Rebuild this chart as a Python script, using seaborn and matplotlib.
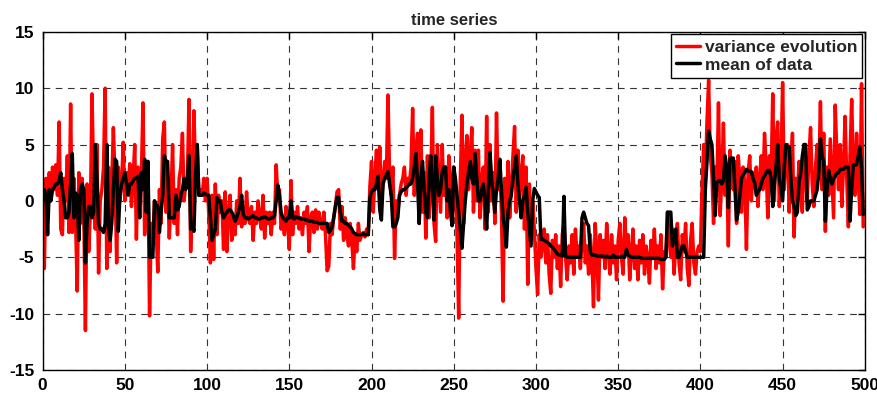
import numpy as np
import pandas as pd
import matplotlib
matplotlib.use("Agg")
import matplotlib.pyplot as plt
import seaborn as sns

# values, one per time step (0..499)
variance = [
    1.5, -6.0, 2.0, -1.0, 2.5, 0.5, 3.0, 1.0, 3.2, 0.5,
    7.0, -2.5, -3.0, 2.0, 0.0, 4.0, -2.8, 8.6, -2.8, 2.0,
    -1.5, -8.0, 2.5, -2.0, 2.0, -1.0, -11.5, 1.5, -4.5, -1.0,
    9.5, 2.0, -2.5, 5.0, -6.4, 0.0, 1.0, 3.0, 10.0, -6.0,
    3.0, -4.5, 1.5, 6.5, 2.0, -5.5, 3.0, 0.0, 1.5, 5.2,
    0.0, 2.5, 1.0, 3.3, -0.5, 2.0, 5.0, -3.4, 3.0, 1.0,
    2.0, 8.7, -3.0, 1.0, 3.5, -10.2, -2.0, -3.5, 0.0, -2.5,
    -6.3, 1.0, -2.0, 5.5, 7.0, -1.0, 2.0, -3.3, 0.0, 5.0,
    -2.0, 1.0, -3.0, 2.0, 3.0, 6.0, 0.0, 1.5, 2.0, 9.0,
    -4.5, 1.0, 8.0, 2.0, 5.0, 0.5, 1.0, 0.5, 2.0, 0.0,
    2.0, -1.0, -5.5, 0.5, -5.2, 1.5, -3.0, 0.5, -1.0, 0.0,
    -4.3, 0.8, -4.5, -1.0, 0.5, -3.5, -1.5, -3.0, 0.0, -2.0,
    2.0, -2.3, -0.5, -2.0, 0.8, -1.5, -2.0, -0.5, -3.5, -1.0,
    -2.0, 0.0, -1.5, -2.5, 0.5, -3.3, -1.0, -2.0, -1.0, -3.0,
    -1.0, -2.0, 3.2, 0.5, 1.0, -2.5, -1.5, -3.0, -0.5, -2.0,
    -4.3, 1.8, -3.0, -1.0, -2.0, -0.5, -2.5, -1.5, -3.0, -1.0,
    -2.0, -0.5, -4.5, -1.5, -1.0, -2.8, -0.8, -2.5, -1.0, -2.0,
    -2.5, -1.0, -3.0, -6.2, -5.8, -2.0, -3.0, -1.5, -0.5, 0.8,
    1.0, -2.5, -0.5, -3.5, -1.5, -3.0, -4.0, -2.0, -3.5, -6.0,
    -3.0, -4.5, -2.0, -3.5, -3.0, -2.8, -3.2, -2.5, -3.0, 1.3,
    3.5, -1.0, 2.0, 4.5, 1.0, 4.8, 0.0, 1.5, 3.5, 2.0,
    9.4, 2.0, 0.5, 3.0, -5.1, 0.0, -1.0, 0.5, 1.5, 2.0,
    3.0, 0.5, 2.0, 1.5, 3.0, 8.2, 0.5, 4.5, 6.0, -2.0,
    6.3, -1.0, 2.5, -3.3, 4.0, -1.5, 2.0, 8.3, -2.0, -3.6,
    5.0, 2.0, -1.0, 5.0, 0.5, 3.0, -1.5, 4.0, 2.0, -2.0,
    3.0, 1.0, -3.0, -10.4, 2.0, 7.6, -2.0, 3.5, 5.8, 1.0,
    4.0, 6.5, -1.0, 4.5, 0.0, 4.5, -1.5, 2.0, 3.0, -2.5,
    7.5, -1.0, 5.0, 0.0, 2.5, -2.0, 7.8, 1.0, 3.5, -1.0,
    -8.9, 2.0, -2.0, 3.5, -1.5, 1.0, 4.0, 6.6, -1.0, 4.5,
    0.0, 2.5, 4.0, -2.5, 3.0, -7.4, 1.5, -3.0, 0.0, -2.5,
    -6.0, -8.3, -3.0, -5.0, -4.0, -2.5, -5.5, -3.0, -6.5, -8.2,
    -3.5, -5.0, -3.0, -6.0, -4.0, -7.6, -3.0, -2.0, -5.0, -7.0,
    -4.0, -5.5, -3.0, -6.5, -2.5, -5.0, -4.0, -6.0, -3.5, -2.0,
    -5.5, -4.0, -6.5, -3.0, -5.0, -9.4, -2.0, -4.5, -8.8, -3.0,
    -5.0, -3.5, -6.0, -2.0, -4.5, -6.5, -3.0, -5.5, -4.0, -7.0,
    -3.5, -2.0, -5.0, -6.5, -1.5, -4.5, -3.0, -7.0, -4.5, -2.5,
    -6.0, -4.0, -7.0, -3.5, -5.5, -3.0, -6.5, -4.0, -5.0, -7.3,
    -3.5, -5.0, -2.5, -6.0, -4.0, -5.5, -3.0, -7.8, -4.5, -5.0,
    -1.0, -3.5, -5.0, -2.5, -6.5, -4.0, -2.0, -5.5, -7.0, -3.0,
    -4.5, -2.0, -6.0, -7.5, -3.5, -2.0, -5.5, -6.5, -4.5, -4.0,
    -4.5, 1.0, 5.0, 2.0, 7.0, 10.7, 4.0, 2.5, -2.0, 3.0,
    1.0, 8.7, -1.3, 2.0, 6.9, 0.5, 3.0, -4.0, 4.5, 2.0,
    1.0, 3.5, -2.0, 4.0, 2.0, -1.0, 3.0, 1.5, -4.3, 2.5,
    4.0, 0.0, 2.5, 1.5, 3.0, -0.5, 2.0, 4.0, 1.0, 6.0,
    3.0, -1.5, 4.0, 2.0, 9.5, 0.0, 5.5, 7.0, -0.5, 3.0,
    10.5, 1.0, 4.0, 5.0, -1.0, 3.0, 6.0, -3.2, 2.0, 0.5,
    3.5, 1.0, -1.0, 5.0, 2.0, 0.0, 4.0, 6.5, 1.5, -0.5,
    3.0, 5.0, 2.0, 8.8, 1.0, 6.0, -2.7, 3.0, 0.5, 5.5,
    2.0, -1.5, 8.5, 4.0, 1.0, 5.0, -0.5, 3.0, 7.5, 2.0,
    -2.3, 4.0, 9.0, 3.0, 0.5, 6.0, 2.0, -1.2, 10.4, -2.3,
]

mean_data = [
    0.0, 1.0, 0.5, -3.0, 1.0, 0.0, 1.0, 1.2, 1.5, 1.5,
    1.8, 2.5, 1.0, 0.0, -1.5, -1.5, -1.0, 1.5, 4.2, -1.5,
    0.7, 0.5, -3.5, 1.0, 1.5, 1.0, -5.5, -2.0, -0.5, -0.5,
    -1.5, -1.0, 5.0, 2.0, -2.0, -2.5, -2.5, -2.8, -2.0, 5.0,
    -2.5, -3.5, -2.0, 1.0, 3.7, 3.5, -2.7, 0.5, 1.5, 2.0,
    2.5, 1.5, 0.5, 1.5, 1.5, 1.8, 2.0, 2.0, 2.2, -1.5,
    2.5, 1.0, 3.7, -1.0, 3.5, -5.0, -5.0, -5.0, 0.0, -0.3,
    -0.5, -2.8, -1.0, 0.5, 4.0, 3.5, 3.5, -1.5, -1.5, -1.5,
    -1.5, 0.5, -0.8, -0.5, 0.5, 1.0, 2.0, 1.0, 2.0, 4.0,
    -2.5, -2.0, -2.7, 2.5, 5.0, 0.5, 0.5, 0.5, 0.7, 0.6,
    0.5, 0.5, -1.5, -3.5, -3.0, -2.5, 0.3, 0.0, 0.0, -1.0,
    -1.5, -1.2, -1.0, -0.8, -0.8, -1.0, -1.3, -1.8, -1.5, -1.0,
    -0.5, 0.5, -1.2, -1.5, -1.5, -1.6, -1.5, -1.4, -1.3, -1.5,
    -1.5, -1.6, -1.6, -1.5, -1.5, -1.4, -1.5, -1.6, -1.6, -1.5,
    -1.5, -1.3, 0.0, 1.4, 0.5, -1.0, -1.5, -1.6, -1.8, -1.5,
    -1.5, 0.0, -1.5, -1.6, -1.4, -1.5, -1.5, -1.6, -1.6, -1.6,
    -1.7, -1.7, -1.8, -1.8, -1.8, -1.9, -1.9, -1.9, -2.0, -2.0,
    -2.0, -2.0, -2.0, -2.0, -2.8, -2.6, -2.3, -1.5, -0.5, 0.3,
    0.3, -1.0, -1.8, -1.8, -2.0, -2.0, -2.2, -2.3, -2.5, -2.8,
    -2.9, -3.0, -3.0, -3.0, -3.0, -2.9, -3.0, -3.0, -3.0, 0.3,
    0.8, 1.0, 1.0, 1.5, 2.2, -0.8, -1.7, 1.5, 2.0, 2.3,
    2.6, 1.5, 0.5, -2.3, -2.3, -2.0, -1.5, 0.5, 0.8, 1.0,
    1.0, 1.2, 1.3, 1.5, 1.5, 2.0, 3.0, 4.2, 1.5, -2.0,
    2.0, 3.5, 1.0, -1.0, -1.5, 2.0, 4.0, 1.0, -1.7, 4.0,
    2.0, 0.5, 1.0, 2.5, 3.0, 3.0, 0.0, 1.0, -1.0, -2.2,
    3.0, 2.0, 0.5, -1.0, -2.5, -4.2, -2.0, 0.0, 1.5, 2.5,
    3.5, 2.0, 1.5, 4.2, 2.0, 0.0, 0.0, 1.0, 1.5, 0.0,
    -2.5, 1.0, 4.3, 2.0, 0.5, -1.0, 1.0, 2.0, 3.7, 1.0,
    -1.5, -2.5, -4.1, -1.0, 0.0, 0.5, 2.0, 3.0, 4.0, 1.5,
    0.0, -1.5, 0.0, 0.5, 1.2, -1.0, -2.5, -4.0, 0.0, 1.1,
    0.8, 0.5, 0.3, -3.4, -3.4, -3.5, -3.6, -3.7, -3.8, -4.0,
    -4.1, -4.3, -4.5, -4.7, -4.8, -4.8, -4.9, 0.4, -4.9, -5.0,
    -5.0, -5.0, -5.0, -5.0, -5.0, -5.0, -5.0, -5.0, -1.5, -1.0,
    -1.5, -2.0, -2.2, -4.5, -4.8, -4.8, -4.8, -4.9, -4.9, -4.9,
    -4.9, -4.9, -5.0, -4.9, -5.0, -5.0, -5.0, -4.8, -5.0, -5.0,
    -5.0, -5.0, -4.9, -5.0, -5.0, -4.3, -4.8, -4.9, -5.0, -5.0,
    -5.0, -5.0, -5.0, -5.0, -5.1, -5.1, -5.1, -5.1, -5.1, -5.1,
    -5.1, -5.1, -5.1, -5.1, -5.1, -5.1, -5.2, -5.2, -5.2, -5.0,
    -1.0, -1.0, -1.0, -4.0, -3.0, -2.5, -5.0, -5.0, -4.5, -4.0,
    -4.0, -4.5, -5.0, -5.0, -5.0, -5.0, -5.0, -5.0, -5.0, -5.0,
    -5.0, -5.0, -5.0, 1.0, 3.5, 6.2, 5.5, 5.0, 2.0, -1.3,
    1.6, 1.8, 1.8, 1.5, 1.8, 4.0, 3.0, -0.6, 3.8, 3.8,
    3.8, 1.0, -1.7, -1.0, 0.5, 2.0, 2.3, 2.5, 2.8, 2.7,
    2.6, 2.6, 2.0, 1.6, 0.5, 0.8, 1.0, 1.5, 2.0, 2.2,
    2.5, 2.7, 2.7, 2.0, -0.5, 1.5, 3.0, 5.0, 2.0, 1.0,
    0.0, 3.0, 5.0, 4.8, 4.8, 2.0, 0.0, -0.5, -1.3, -1.0,
    1.7, 2.5, 4.0, 5.0, 5.0, -0.8, -0.5, 0.0, 0.0, 0.0,
    0.5, 1.0, 2.5, 5.5, 4.0, 3.5, -1.8, 1.0, 2.7, 2.0,
    1.5, 2.0, 2.2, 2.5, 2.5, 2.8, 2.8, 2.8, 3.0, 3.0,
    3.0, -1.8, 1.0, 3.2, 3.2, 3.2, 4.0, 4.8, 3.0, -1.2,
]

t = np.arange(len(variance))
df = pd.DataFrame({"t": t, "variance evolution": variance, "mean of data": mean_data})

sns.set_theme(style="white")
plt.rcParams['font.family'] = ['Liberation Sans', 'DejaVu Sans']
plt.rcParams['font.weight'] = 'bold'
plt.rcParams['axes.unicode_minus'] = False

fig = plt.figure(figsize=(8.78, 4.03), dpi=100)
ax = fig.add_axes([0.0486, 0.082, 0.9364, 0.839])

sns.lineplot(data=df, x="t", y="variance evolution", color="#ff0000", lw=2.5,
             label="variance evolution", ax=ax)
sns.lineplot(data=df, x="t", y="mean of data", color="black", lw=2.5,
             label="mean of data", ax=ax)

ax.set_xlim(0, 500)
ax.set_ylim(-15, 15)
ax.set_xticks(np.arange(0, 501, 50))
ax.set_yticks(np.arange(-15, 16, 5))
ax.grid(True, linestyle=(0, (6, 5)), color="#333333", lw=0.8)
ax.tick_params(direction="in", length=5, width=1, top=True, right=True,
               labelsize=12.5, colors="black", pad=6)
for lab in ax.get_xticklabels() + ax.get_yticklabels():
    lab.set_fontweight("bold")
for sp in ax.spines.values():
    sp.set_color("black")
    sp.set_linewidth(1)
ax.set_xlabel("")
ax.set_ylabel("")
ax.set_title("time series", fontsize=12, fontweight="bold", pad=5)

leg = ax.legend(loc="upper right", fontsize=12.5, frameon=True, fancybox=False,
                borderaxespad=0.15, handlelength=1.4, handletextpad=0.25,
                borderpad=0.3, labelspacing=0.15)
leg.get_frame().set_edgecolor("black")
leg.get_frame().set_linewidth(1)
leg.get_frame().set_alpha(1)
for txt in leg.get_texts():
    txt.set_fontweight("bold")

fig.savefig("out.png", dpi=100)
